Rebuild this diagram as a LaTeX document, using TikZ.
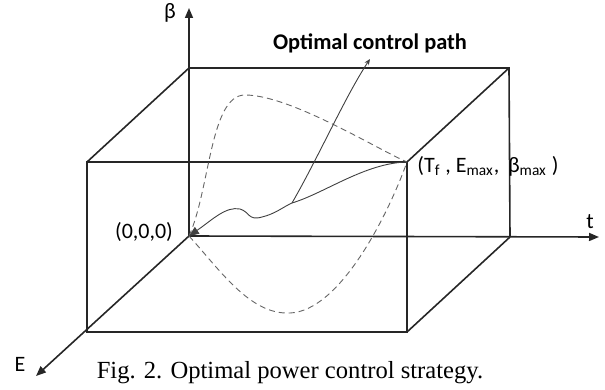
\documentclass[tikz,border=0pt]{standalone}
\usepackage{fontspec}
\setmainfont{Carlito}
\newfontfamily\capfont{Liberation Serif}
\usetikzlibrary{arrows.meta}
\usetikzlibrary{positioning}

\begin{document}
\begin{tikzpicture}[x=0.5pt, y=-0.5pt,
    edge/.style={line width=0.8pt, black!85},
    axis/.style={line width=0.8pt, black!85, -{Triangle[length=5pt, width=4pt]}},
    path/.style={line width=0.45pt, black!75},
    bound/.style={line width=0.45pt, black!60, dash pattern=on 3pt off 2pt},
    lbl/.style={inner sep=0pt, font=\fontsize{11}{13}\selectfont}]
  \useasboundingbox (0,0) rectangle (605,390);
  % corners of the box
  \coordinate (O)  at (189,236);
  \coordinate (bt) at (189,68);
  \coordinate (br) at (509,68);
  \coordinate (bb) at (510,237);
  \coordinate (ft) at (87,162);
  \coordinate (F)  at (407,162);
  \coordinate (fb) at (407,332);
  \coordinate (fl) at (87,332);
  % axes
  \coordinate (betaend) at (189,8);
  \coordinate (tend)    at (599,237);
  \coordinate (Eend)    at (36,376);
  \draw[axis] (O) -- (betaend);
  \draw[axis] (O) -- (tend);
  \draw[axis] (O) -- (Eend);
  % box
  \draw[edge] (bt) -- (br) -- (bb);
  \draw[edge] (ft) -- (F) -- (fb) -- (fl) -- cycle;
  \draw[edge] (bt) -- (ft);
  \draw[edge] (br) -- (F);
  \draw[edge] (bb) -- (fb);
  % bounds of the reachable set
  \draw[bound] (O) .. controls (210,190) and (210,95) .. (245,95)
                   .. controls (290,95) and (375,148) .. (F);
  \draw[bound] (O) .. controls (220,270) and (250,315) .. (290,313)
                   .. controls (340,311) and (388,215) .. (F);
  % optimal path
  \coordinate (J) at (292,203);
  \draw[path, {Triangle[length=5pt, width=4pt]}-] (O)
      .. controls (212,220) and (226,206) .. (240,209)
      .. controls (250,212) and (248,221) .. (262,217)
      .. controls (275,214) and (283,207) .. (J)
      .. controls (325,193) and (365,163) .. (F);
  \coordinate (tip) at (370,59);
  \draw[path, -{Stealth[length=3pt, width=2.5pt]}] (J)
      .. controls (318,158) and (346,95) .. (tip);
  % labels
  \node[lbl] (beta)  at (170,13) {β};
  \node[lbl] (tlab)  at (590,222) {t};
  \node[lbl] (Elab)  at (20,364) {E};
  \node[lbl] (orig)  at (144,232) {(0,0,0)};
  \node[lbl, anchor=west] (final) at (417,166)
      {(T\textsubscript{f} , E\textsubscript{max},\, β\textsubscript{max} )};
  \node[lbl, font=\fontsize{11.2}{13}\selectfont\bfseries] (optlab) at (370,43)
      {Optimal control path};
  \node[inner sep=0pt, font=\capfont\fontsize{12.3}{14}\selectfont] (caption) at (290,373)
      {Fig. 2. Optimal power control strategy.};
\end{tikzpicture}
\end{document}
